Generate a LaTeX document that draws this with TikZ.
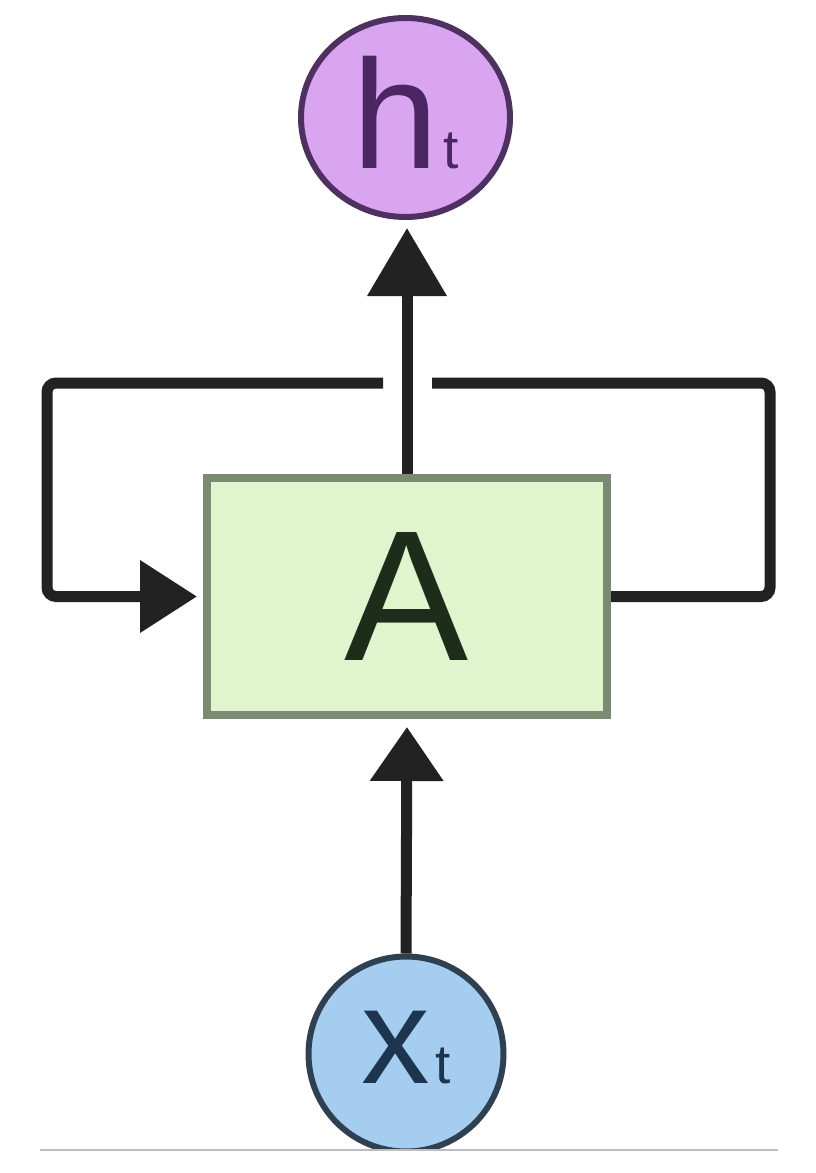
\documentclass[tikz,border=0pt]{standalone}
\usepackage{fontspec}
\setmainfont{Liberation Sans}
\usetikzlibrary{arrows.meta,shapes.geometric}
\definecolor{linec}{HTML}{222222}
\definecolor{hfill}{HTML}{DAA5F0}
\definecolor{hdraw}{HTML}{4E3160}
\definecolor{htext}{HTML}{4B2663}
\definecolor{xfill}{HTML}{A5CDF0}
\definecolor{xdraw}{HTML}{2E4052}
\definecolor{xtext}{HTML}{1E3550}
\definecolor{afill}{HTML}{DEF5CD}
\definecolor{adraw}{HTML}{7B8B73}
\definecolor{atext}{HTML}{1E2D1A}
\definecolor{rulec}{HTML}{BDBDBD}
\tikzset{
  conn/.style={draw=linec, line width=11pt},
  loopline/.style={conn, rounded corners=9pt},
  cellbox/.style={rectangle, draw=adraw, fill=afill, line width=8pt,
    minimum width=400pt, minimum height=237pt, inner sep=0pt,
    text=atext, font=\fontsize{186pt}{186pt}\selectfont,
    text height=133pt, text depth=6pt},
  outnode/.style={ellipse, draw=hdraw, fill=hfill, line width=6pt,
    minimum width=209pt, minimum height=199pt, inner sep=0pt,
    text=htext, text height=113pt, text depth=11pt},
  innode/.style={circle, draw=xdraw, fill=xfill, line width=6pt,
    minimum size=195pt, inner sep=0pt,
    text=xtext, text height=71pt, text depth=13pt},
}
\begin{document}
\begin{tikzpicture}[x=1pt,y=-1pt]
\useasboundingbox (0,0) rectangle (816,1173);
\fill[white] (0,0) rectangle (816,1173);

% nodes
\node[cellbox] (A) at (407,596.5) {A};
\node[outnode] (h) at (405.5,117.5)
  {{\fontsize{155pt}{155pt}\selectfont h}\kern5pt{\fontsize{55pt}{55pt}\selectfont t}};
\begin{scope}
  \clip (0,0) rectangle (816,1149);
  \node[innode] (x) at (406,1054)
    {{\fontsize{137pt}{137pt}\selectfont x}\kern6pt{\fontsize{55pt}{55pt}\selectfont t}};
\end{scope}

% helper coordinates for the recurrent loop
\coordinate (cTR) at (770,383);
\coordinate (cTL) at (47,383);
\coordinate (gapR) at (432,383);
\coordinate (gapL) at (383,383);

% recurrent loop
\draw[loopline] (A.east) -| (cTR) -- (gapR);
\draw[loopline, -{Triangle[length=57pt,width=70pt]}, shorten >=6pt]
  (gapL) -- (cTL) |- (A.west);

% output and input arrows
\draw[conn, -{Triangle[length=68pt,width=77pt]}, shorten >=8pt]
  (A.north) -- (A.north |- h.south);
\draw[conn, -{Triangle[length=54pt,width=71pt]}, shorten >=8pt]
  (x.north) -- (A.south);

% bottom rule
\coordinate (rL) at (40,1150);
\coordinate (rR) at (778,1150);
\draw[rulec, line width=2pt] (rL) -- (rR);
\end{tikzpicture}
\end{document}
